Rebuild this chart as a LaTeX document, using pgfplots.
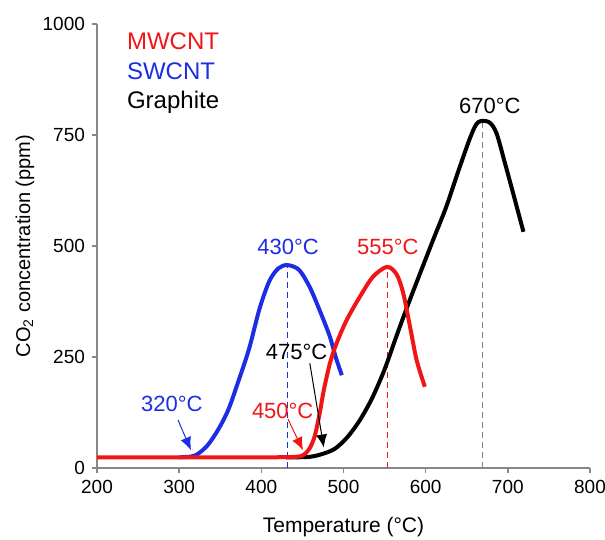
\documentclass[border=0pt]{standalone}
\usepackage{fontspec}
\setmainfont{Liberation Sans}
\usepackage{pgfplots}
\pgfplotsset{compat=1.18}
\usetikzlibrary{arrows.meta}
\definecolor{mwred}{RGB}{240,22,22}
\definecolor{swblue}{RGB}{28,45,228}
\definecolor{axgray}{RGB}{135,135,135}

\begin{document}
\begin{tikzpicture}
\begin{axis}[
  name=ax, at={(0,0)}, anchor=south west,
  scale only axis, width=246.5pt, height=222pt,
  xmin=200, xmax=800, ymin=0, ymax=1000,
  xtick={200,300,...,800}, ytick={0,250,500,750,1000},
  axis lines*=left,
  axis line style={axgray, line width=0.8pt},
  tick style={axgray, line width=0.8pt},
  tick align=outside, major tick length=2.5pt,
  ticklabel style={font=\fontsize{9.5}{11}\selectfont},
  /pgf/number format/assume math mode=true,
  /pgf/number format/set thousands separator={},
  xlabel={Temperature (°C)},
  ylabel={CO\textsubscript{2} concentration (ppm)},
  xlabel style={font=\fontsize{10.5}{12}\selectfont, at={(axis description cs:0.5,-0.133)}, anchor=center},
  ylabel style={font=\fontsize{10}{12}\selectfont, at={(axis description cs:-0.146,0.5)}, anchor=center},
  clip=false,
]
% dashed peak markers
\addplot[swblue, line width=0.5pt, dash pattern=on 3pt off 2pt] coordinates {(432,0) (432,457)};
\addplot[mwred, line width=0.5pt, dash pattern=on 3pt off 2pt] coordinates {(554,0) (554,452)};
\addplot[gray, line width=0.5pt, dash pattern=on 3pt off 2pt] coordinates {(669,0) (669,779)};

% Graphite
\addplot[black, line width=2pt, smooth, tension=0.5] coordinates {
  (430,24) (458,25) (475,32) (490,44) (505,70) (520,108) (535,158) (550,222)
  (565,300) (580,375) (595,447) (610,518) (625,588) (640,670) (655,748)
  (664,779) (677,779) (686,755) (696,690) (707,615) (719,532)};
% SWCNT
\addplot[swblue, line width=2pt, smooth, tension=0.5] coordinates {
  (300,24) (315,26) (323,32) (335,52) (348,88) (360,132) (372,195) (385,268)
  (398,360) (410,422) (421,450) (432,457) (446,446) (459,407) (471,355)
  (483,298) (491,247) (498,209)};
% MWCNT
\addplot[mwred, line width=2pt, smooth, tension=0.5] coordinates {
  (200,24) (300,24) (400,24) (440,25) (451,29) (459,45) (465,72) (471,123)
  (476,175) (483.5,236) (491.6,281) (503.8,333) (520,386) (536,431) (553,453)
  (564.7,436) (572.8,393) (581,318) (589,243) (599,183)};

% legend text
\node[anchor=base west, text=mwred, font=\fontsize{12}{14}\selectfont] at (axis cs:228,943) {MWCNT};
\node[anchor=base west, text=swblue, font=\fontsize{12}{14}\selectfont] at (axis cs:228,874) {SWCNT};
\node[anchor=base west, text=black, font=\fontsize{12}{14}\selectfont] at (axis cs:228,809) {Graphite};

% peak labels
\node[text=swblue, font=\fontsize{11}{13}\selectfont] at (axis cs:432.5,497) {430°C};
\node[text=mwred, font=\fontsize{11}{13}\selectfont] at (axis cs:554,497) {555°C};
\node[text=black, font=\fontsize{11}{13}\selectfont] at (axis cs:678,815) {670°C};

% onset labels and arrows
\node[text=swblue, font=\fontsize{11}{13}\selectfont] at (axis cs:291,144) {320°C};
\node[text=mwred, font=\fontsize{11}{13}\selectfont] at (axis cs:426,128) {450°C};
\node[text=black, font=\fontsize{11}{13}\selectfont] at (axis cs:443,261) {475°C};
\draw[swblue, line width=0.5pt, -{Latex[length=6.5pt,width=5.5pt]}] (axis cs:298.6,108) -- (axis cs:314.4,40);
\draw[mwred, line width=0.5pt, -{Latex[length=6.5pt,width=5.5pt]}] (axis cs:432.4,110) -- (axis cs:450.7,40);
\draw[black, line width=0.5pt, -{Latex[length=6.5pt,width=5.5pt]}] (axis cs:459,236) -- (axis cs:476,46);
\end{axis}
\pgfresetboundingbox
\path ([shift={(-48.5pt,-36pt)}]ax.south west) rectangle ([shift={(7.5pt,12pt)}]ax.north east);
\end{tikzpicture}
\end{document}
